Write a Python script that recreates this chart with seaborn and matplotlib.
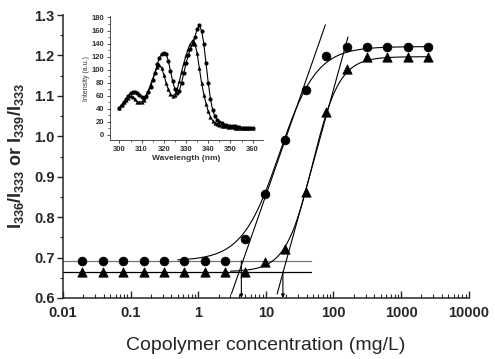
import numpy as np
import pandas as pd
import matplotlib
matplotlib.use("Agg")
import matplotlib.pyplot as plt
import seaborn as sns
from matplotlib.ticker import LogLocator, MultipleLocator, NullFormatter, FixedLocator

sns.set_style("ticks")
plt.rcParams["font.family"] = ["Liberation Sans", "DejaVu Sans"]
plt.rcParams["mathtext.fontset"] = "custom"
plt.rcParams["mathtext.rm"] = "Liberation Sans"
plt.rcParams["mathtext.bf"] = "Liberation Sans:bold"

# main plot: fluorescence intensity ratio vs copolymer concentration
conc = [0.0195, 0.039, 0.078, 0.156, 0.3125, 0.625, 1.25, 2.5, 4.88,
        9.77, 19.5, 39, 78, 156, 312, 625, 1250, 2500]
ratio_circle = [0.692, 0.692, 0.692, 0.692, 0.692, 0.692, 0.692, 0.692, 0.747,
                0.857, 0.991, 1.115, 1.199, 1.221, 1.222, 1.222, 1.222, 1.222]
ratio_triangle = [0.665, 0.665, 0.665, 0.665, 0.665, 0.665, 0.665, 0.665, 0.665,
                  0.688, 0.720, 0.861, 1.060, 1.167, 1.197, 1.197, 1.197, 1.197]

# Boltzmann fit parameters (A1, A2, log10 x0, dx)
fit_circle = (0.692, 1.222, 1.20, 0.276)
fit_triangle = (0.665, 1.197, 1.69, 0.20)

# tangent lines (two end points each) and CMC arrows
tangent_circle = ([3.1, 76.0], [0.61, 1.276])
tangent_triangle = ([14.7, 164.0], [0.61, 1.246])
cmc_circle = 4.35
cmc_triangle = 17.9

# inset: emission spectra
wavelength = list(range(300, 361))
spec_circle = [42, 46, 50, 55, 60, 65, 66, 66, 65, 62, 58, 57, 60, 66, 74, 84, 95, 108, 118, 124,
               126, 124, 114, 98, 82, 70, 64, 68, 80, 95, 110, 122, 132, 140, 150, 162, 168, 160, 140, 110,
               80, 55, 38, 29, 23, 20, 18, 16, 15, 14, 14, 13, 13, 12, 12, 11, 11, 11, 10, 10, 10]
spec_triangle = [42, 46, 50, 54, 57, 59, 58, 55, 51, 50, 51, 54, 60, 68, 77, 86, 96, 104, 107, 103,
                 92, 80, 70, 63, 60, 62, 70, 82, 97, 110, 122, 132, 140, 145, 140, 125, 102, 80, 62, 48,
                 36, 28, 22, 19, 17, 15, 14, 13, 13, 12, 12, 12, 11, 11, 11, 11, 10, 10, 10, 10, 10]


def boltzmann(x, p):
    a1, a2, x0, dx = p
    return a2 + (a1 - a2) / (1 + np.exp((np.log10(x) - x0) / dx))


fig = plt.figure(figsize=(4.95, 3.59), dpi=100)
ax = fig.add_axes([0.127, 0.170, 0.820, 0.788])

# baselines
ax.plot([0.01, 46], [ratio_circle[0]] * 2, color="#777777", lw=0.9)
ax.plot([0.01, 46], [ratio_triangle[0]] * 2, color="black", lw=0.9)

# fitted curves
xs1 = np.logspace(np.log10(0.5), np.log10(2500), 300)
xs2 = np.logspace(np.log10(3.0), np.log10(2500), 300)
fit_df1 = pd.DataFrame({"x": xs1, "y": boltzmann(xs1, fit_circle)})
fit_df2 = pd.DataFrame({"x": xs2, "y": boltzmann(xs2, fit_triangle)})
sns.lineplot(data=fit_df1, x="x", y="y", ax=ax, color="black", lw=0.8)
sns.lineplot(data=fit_df2, x="x", y="y", ax=ax, color="black", lw=0.8)

# tangents
ax.plot(*tangent_circle, color="black", lw=0.8)
ax.plot(*tangent_triangle, color="black", lw=0.8)

# arrows to CMC
for c, y0 in [(cmc_circle, ratio_circle[0]), (cmc_triangle, ratio_triangle[0])]:
    ax.annotate("", xy=(c, 0.6), xytext=(c, y0),
                arrowprops=dict(arrowstyle="-|>", color="black", lw=0.8,
                                mutation_scale=5, shrinkA=0, shrinkB=0))

df = pd.DataFrame({"conc": conc, "circle": ratio_circle, "triangle": ratio_triangle})
sns.scatterplot(data=df, x="conc", y="circle", ax=ax, marker="o", s=40,
                color="black", edgecolor="black", zorder=5)
sns.scatterplot(data=df, x="conc", y="triangle", ax=ax, marker="^", s=45,
                color="black", edgecolor="black", zorder=5)

ax.set_xscale("log")
ax.set_xlim(0.01, 10000)
ax.set_ylim(0.6, 1.3)
ax.xaxis.set_major_locator(FixedLocator([0.01, 0.1, 1, 10, 100, 1000, 10000]))
ax.set_xticklabels(["0.01", "0.1", "1", "10", "100", "1000", "10000"])
ax.xaxis.set_minor_locator(LogLocator(base=10, subs=np.arange(2, 10), numticks=20))
ax.xaxis.set_minor_formatter(NullFormatter())
ax.yaxis.set_major_locator(MultipleLocator(0.1))
ax.yaxis.set_minor_locator(MultipleLocator(0.05))
ax.yaxis.set_major_formatter(matplotlib.ticker.FormatStrFormatter("%.1f"))
ax.tick_params(axis="x", which="major", direction="in", length=5, width=1,
               labelsize=10.5, pad=6)
ax.tick_params(axis="x", which="minor", direction="in", length=3, width=0.8)
ax.tick_params(axis="y", which="major", direction="out", length=4, width=1,
               labelsize=10.5, pad=2)
ax.tick_params(axis="y", which="minor", direction="out", length=2.5, width=0.8)
for lab in ax.get_xticklabels() + ax.get_yticklabels():
    lab.set_fontweight("bold")
for s in ["left", "bottom"]:
    ax.spines[s].set_linewidth(1.1)
sns.despine(ax=ax)

ax.set_xlabel("Copolymer concentration (mg/L)", fontsize=14, labelpad=12)
ax.set_ylabel(r"$\mathbf{I_{336}/I_{333}}$ or $\mathbf{I_{339}/I_{333}}$",
              fontsize=13, fontweight="bold", labelpad=6)

# inset
axi = fig.add_axes([0.222, 0.610, 0.309, 0.345])
spec_df = pd.DataFrame({"wl": wavelength, "circle": spec_circle, "triangle": spec_triangle})
sns.lineplot(data=spec_df, x="wl", y="circle", ax=axi, color="black", lw=0.8,
             marker="o", markersize=3.0, markeredgewidth=0)
sns.lineplot(data=spec_df, x="wl", y="triangle", ax=axi, color="black", lw=0.8,
             marker="^", markersize=3.0, markeredgewidth=0)
axi.set_xlim(295.7, 364.6)
axi.set_ylim(-7.7, 182)
axi.xaxis.set_major_locator(MultipleLocator(10))
axi.xaxis.set_minor_locator(MultipleLocator(5))
axi.yaxis.set_major_locator(MultipleLocator(20))
axi.yaxis.set_minor_locator(MultipleLocator(10))
axi.tick_params(which="major", direction="out", length=2.5, width=0.6,
                labelsize=5.5, pad=1.5, colors="#333333")
axi.tick_params(which="minor", direction="out", length=1.5, width=0.5, colors="#333333")
for lab in axi.get_xticklabels() + axi.get_yticklabels():
    lab.set_fontweight("bold")
for s in ["left", "bottom"]:
    axi.spines[s].set_linewidth(0.6)
    axi.spines[s].set_color("#333333")
sns.despine(ax=axi)
axi.set_xlabel("Wavelength (nm)", fontsize=6, fontweight="bold", labelpad=2, color="#333333")
axi.set_ylabel("Intensity (a.u.)", fontsize=5, labelpad=1, color="#333333")
axi.patch.set_alpha(0)

fig.savefig("out.png", dpi=100)
